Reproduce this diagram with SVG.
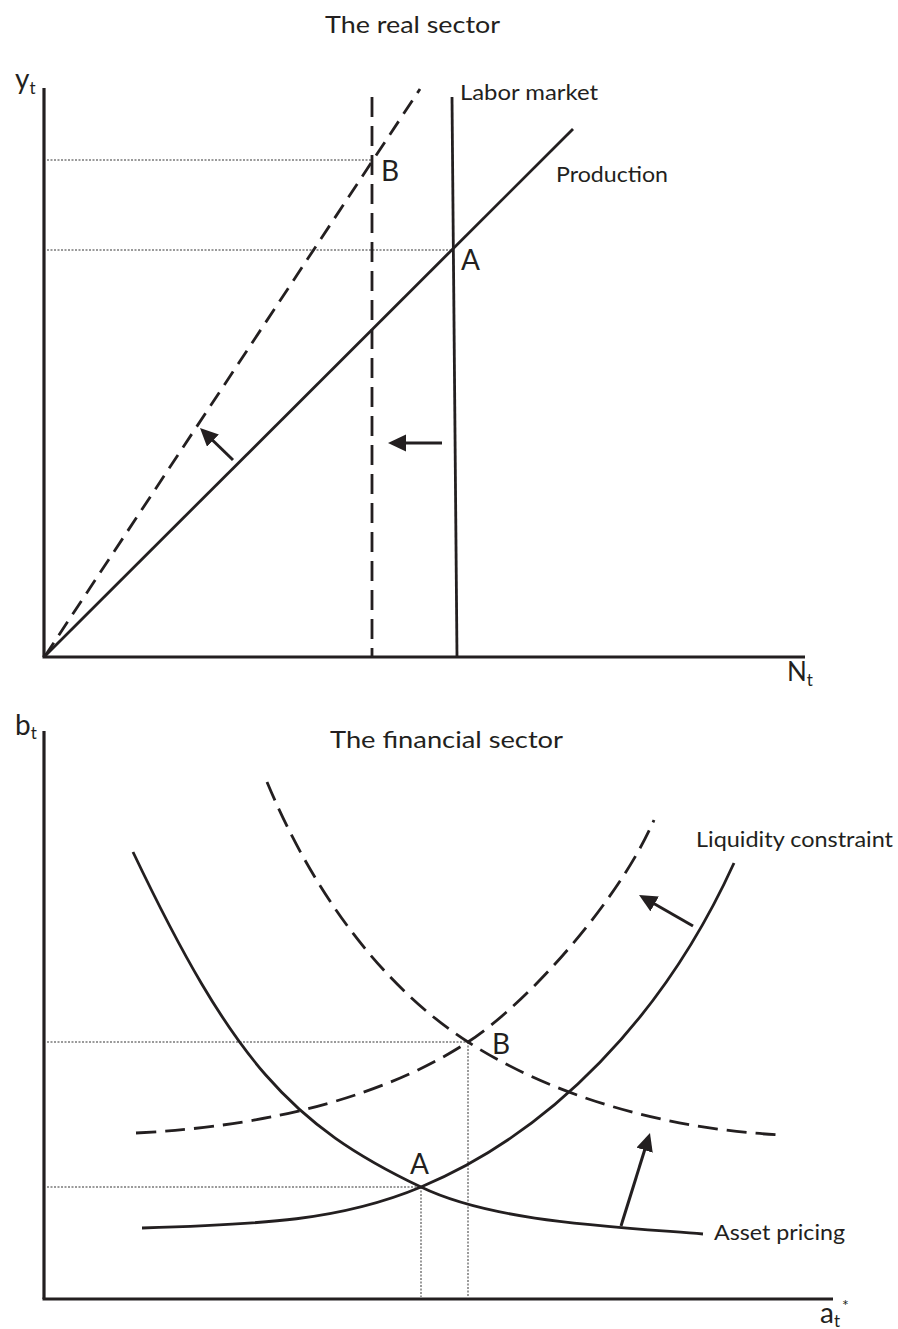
<svg xmlns="http://www.w3.org/2000/svg" width="898" height="1329" viewBox="0 0 898 1329">
<style>
text{font-family:Lato,"Open Sans","Liberation Sans",sans-serif;fill:#231f20}
.ax{stroke:#231f20;stroke-width:3.2;fill:none}
.ln{stroke:#231f20;stroke-width:2.8;fill:none}
.dsh{stroke:#231f20;stroke-width:2.8;fill:none;stroke-dasharray:20 9}
.dsh2{stroke:#231f20;stroke-width:2.8;fill:none;stroke-dasharray:16 9}
.dot{stroke:#9a9a9a;stroke-width:2;fill:none;stroke-dasharray:2 1.5}
.arr{stroke:#231f20;stroke-width:3;fill:none;marker-end:url(#ah)}
.lbl{font-size:21px}
.ttl{font-size:24px}
.pt{font-size:28px}
</style>
<defs>
<marker id="ah" markerUnits="userSpaceOnUse" markerWidth="20" markerHeight="20" refX="8" refY="8.5" orient="auto" viewBox="0 0 20 20">
<path d="M0,0 L18,8.5 L0,17 z" fill="#231f20"/>
</marker>
</defs>
<rect width="898" height="1329" fill="#ffffff"/>

<!-- Real sector -->
<g id="real-title"><text class="ttl" x="325" y="33" textLength="175" lengthAdjust="spacingAndGlyphs">The real sector</text></g>
<g id="real-axes">
<line class="ax" x1="44" y1="88" x2="44" y2="657"/>
<line class="ax" x1="42.5" y1="657" x2="805" y2="657"/>
<text x="15" y="89" font-size="28">y<tspan font-size="17" dy="5">t</tspan></text>
<text x="787" y="681" font-size="26">N<tspan font-size="17" dy="5">t</tspan></text>
</g>
<g id="real-guides">
<line class="dot" x1="47" y1="160" x2="371" y2="160"/>
<line class="dot" x1="47" y1="250" x2="453" y2="250"/>
</g>
<g id="labor-market">
<line class="ln" x1="452" y1="97" x2="457" y2="657"/>
<text class="lbl" x="460" y="100" textLength="138" lengthAdjust="spacingAndGlyphs">Labor market</text>
</g>
<g id="labor-market-shifted">
<line class="dsh" x1="372" y1="97" x2="372" y2="657"/>
</g>
<g id="production">
<line class="ln" x1="44" y1="657" x2="573" y2="129"/>
<text class="lbl" x="556" y="182" textLength="112" lengthAdjust="spacingAndGlyphs">Production</text>
</g>
<g id="production-shifted">
<line class="dsh2" x1="45" y1="656" x2="420" y2="89"/>
</g>
<g id="real-points">
<text class="pt" x="381" y="181">B</text>
<text class="pt" x="461" y="270">A</text>
</g>

<!-- Financial sector -->
<g id="fin-title"><text class="ttl" x="330" y="748" textLength="233" lengthAdjust="spacingAndGlyphs">The financial sector</text></g>
<g id="fin-axes">
<line class="ax" x1="44" y1="731" x2="44" y2="1299"/>
<line class="ax" x1="42.5" y1="1299" x2="833" y2="1299"/>
<text x="15" y="735" font-size="28">b<tspan font-size="17" dy="4">t</tspan></text>
<text x="820" y="1323" font-size="28">a<tspan font-size="17" dy="4">t</tspan></text>
<text x="842" y="1311" font-size="16">*</text>
</g>
<g id="fin-guides">
<line class="dot" x1="47" y1="1042" x2="468" y2="1042"/>
<line class="dot" x1="47" y1="1187" x2="421" y2="1187"/>
<line class="dot" x1="421" y1="1187" x2="421" y2="1298"/>
<line class="dot" x1="468" y1="1042" x2="468" y2="1298"/>
</g>
<g id="asset-pricing">
<path class="ln" d="M133,852 C233,1062 291,1125 421,1187 C491,1221 603,1226 703,1234"/>
<text class="lbl" x="714" y="1240" textLength="131" lengthAdjust="spacingAndGlyphs">Asset pricing</text>
</g>
<g id="liquidity-constraint">
<path class="ln" d="M142,1228 C262,1224.4 341,1220.6 421,1187 C551,1132.4 664,1017 734,863"/>
<text class="lbl" x="696" y="847" textLength="197" lengthAdjust="spacingAndGlyphs">Liquidity constraint</text>
</g>
<g id="liquidity-constraint-shifted">
<path class="dsh" d="M136,1133 C276,1126 388,1094 468,1042 C528,1003 619,900.5 654,820"/>
</g>
<g id="asset-pricing-shifted">
<path class="dsh" d="M267,782 C322,914 398,997 468,1042 C558,1099.6 672,1129.5 782,1135"/>
</g>
<g id="fin-points">
<text class="pt" x="492" y="1054" font-size="27">B</text>
<text class="pt" x="410" y="1174" font-size="27">A</text>
</g>

<g id="connectors">
<line class="arr" x1="233" y1="460" x2="207.2" y2="435"/>
<line class="arr" x1="442" y1="443" x2="398" y2="443"/>
<line class="arr" x1="693" y1="926" x2="647.7" y2="900"/>
<line class="arr" x1="621" y1="1226" x2="647" y2="1142.5"/>
</g>
</svg>
